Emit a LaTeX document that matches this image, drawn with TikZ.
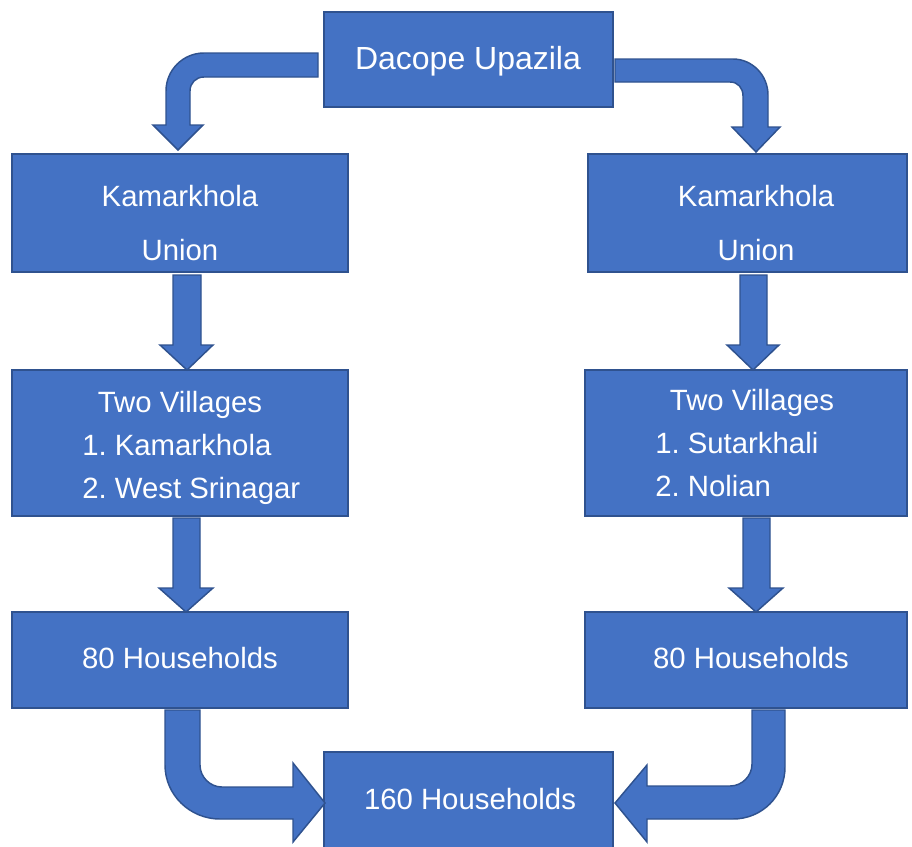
\documentclass[tikz,border=0pt]{standalone}
\usepackage{fontspec}
\setmainfont{Liberation Sans}
\frenchspacing
\definecolor{boxfill}{HTML}{4472C4}
\definecolor{boxline}{HTML}{2F528F}
\begin{document}
\begin{tikzpicture}[x=0.75pt,y=-0.75pt,
  box/.style={draw=boxline,fill=boxfill,line width=1.1pt,rectangle,inner sep=0pt,outer sep=0pt},
  barrow/.style={draw=boxline,fill=boxfill,line width=1.1pt,line join=miter},
  txt/.style={text=white,font=\fontsize{22}{26}\selectfont,inner sep=0pt,anchor=base},
  ltxt/.style={txt,anchor=base west}]
\useasboundingbox (0,0) rectangle (912,846);
% boxes
\node[box,minimum width=216.75pt,minimum height=71.25pt] (top) at (468.5,59.5) {};
\node[box,minimum width=252pt,minimum height=88.5pt] (lu) at (180,213) {};
\node[box,minimum width=239.25pt,minimum height=88.5pt] (ru) at (747.5,213) {};
\node[box,minimum width=252pt,minimum height=109.5pt] (lv) at (180,443) {};
\node[box,minimum width=241.5pt,minimum height=109.5pt] (rv) at (746,443) {};
\node[box,minimum width=252pt,minimum height=72pt] (lh) at (180,660) {};
\node[box,minimum width=241.5pt,minimum height=72pt] (rh) at (746,660) {};
\node[box,minimum width=216.75pt,minimum height=72pt] (bot) at (468.5,800) {};
% texts
\node[txt,font=\fontsize{24}{28}\selectfont] (t1) at (468,69) {Dacope Upazila};
\node[txt] (t2) at (180,206) {Kamarkhola};
\node[txt] (t3) at (180,260) {Union};
\node[txt] (t4) at (756,206) {Kamarkhola};
\node[txt] (t5) at (756,260) {Union};
\node[txt] (t6) at (180,412) {Two Villages};
\node[ltxt] (t7) at (82,455) {1. Kamarkhola};
\node[ltxt] (t8) at (82,498) {2. West Srinagar};
\node[txt] (t9) at (752,410) {Two Villages};
\node[ltxt] (t10) at (655,453) {1. Sutarkhali};
\node[ltxt] (t11) at (655,496) {2. Nolian};
\node[txt] (t12) at (180,668) {80 Households};
\node[txt] (t13) at (751,668) {80 Households};
\node[txt] (t14) at (470,809) {160 Households};
% top-left bent arrow
\draw[barrow] (318,53) -- (204,53) .. controls (183,53) and (166,70) .. (166,91)
  -- (166,125) -- (153,125) -- (178,150) -- (203,125) -- (190,125) -- (190,91)
  .. controls (190,83) and (196,77) .. (204,77) -- (318,77) -- cycle;
% top-right bent arrow
\draw[barrow] (615,59) -- (733,59) .. controls (752,59) and (768,75) .. (768,95)
  -- (768,127) -- (780,127) -- (756,152) -- (732,127) -- (743,127) -- (743,96)
  .. controls (743,88) and (738,82) .. (730,82) -- (615,82) -- cycle;
% straight down arrows
\draw[barrow] (173,275) -- (201,275) -- (201,345) -- (213,345) -- (187,370) -- (160,345) -- (173,345) -- cycle;
\draw[barrow] (740,275) -- (767,275) -- (767,345) -- (779,345) -- (753,370) -- (727,345) -- (740,345) -- cycle;
\draw[barrow] (173,518) -- (200,518) -- (200,588) -- (213,588) -- (186,612) -- (159,588) -- (173,588) -- cycle;
\draw[barrow] (743,518) -- (770,518) -- (770,588) -- (783,588) -- (756,612) -- (729,588) -- (743,588) -- cycle;
% bottom-left bent arrow
\draw[barrow] (165,710) -- (200,710) -- (200,765) .. controls (200,777) and (210,787) .. (222,787)
  -- (293,787) -- (293,763) -- (325,803) -- (293,842) -- (293,819) -- (220,819)
  .. controls (190,819) and (165,795) .. (165,765) -- cycle;
% bottom-right bent arrow
\draw[barrow] (785,710) -- (752,710) -- (752,764) .. controls (752,776) and (742,786) .. (730,786)
  -- (647,786) -- (647,765) -- (615,803) -- (647,842) -- (647,819) -- (733,819)
  .. controls (762,819) and (785,796) .. (785,767) -- cycle;
\end{tikzpicture}
\end{document}
